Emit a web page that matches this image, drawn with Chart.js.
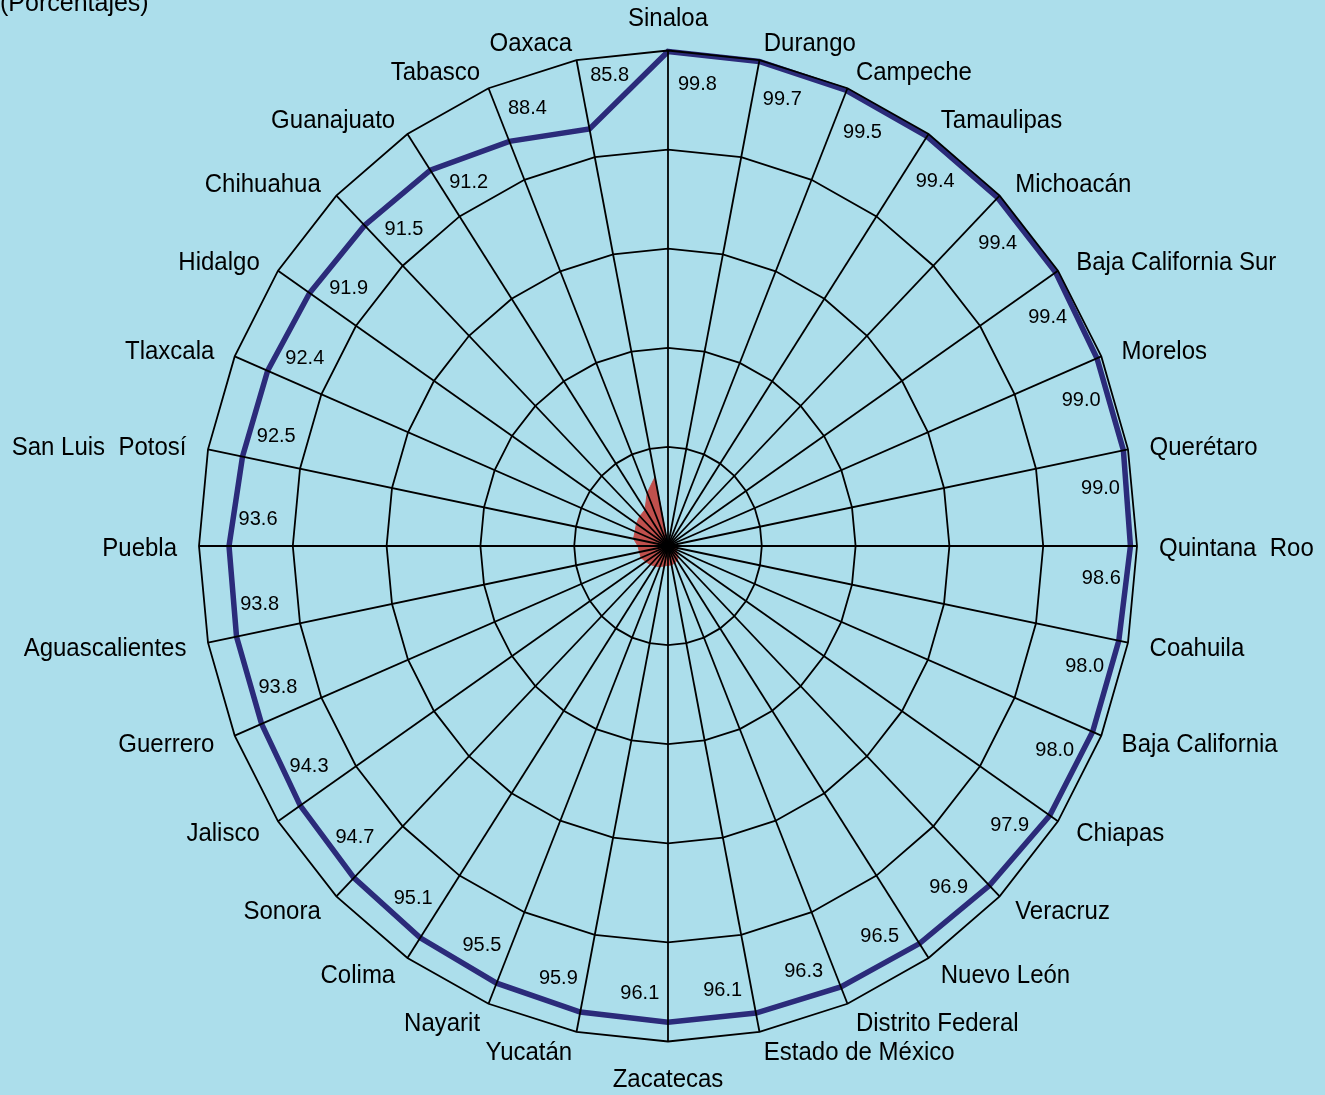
<!DOCTYPE html>
<html>
<head>
<meta charset="utf-8">
<script src="https://cdn.jsdelivr.net/npm/chart.js@4.4.1/dist/chart.umd.min.js"></script>
<style>
    html, body { margin: 0; padding: 0; background: #acdeeb; overflow: hidden; }
    #radar { display: block; background: #acdeeb; }
</style>
</head>
<body>
<canvas id="radar" width="1325" height="1095"></canvas>
<script>
// ================= DATA =================

const estados = [
    "Sinaloa", "Durango", "Campeche", "Tamaulipas", "Michoacán",
    "Baja California Sur", "Morelos", "Querétaro", "Quintana  Roo", "Coahuila",
    "Baja California", "Chiapas", "Veracruz", "Nuevo León", "Distrito Federal",
    "Estado de México", "Zacatecas", "Yucatán", "Nayarit", "Colima",
    "Sonora", "Jalisco", "Guerrero", "Aguascalientes", "Puebla",
    "San Luis  Potosí", "Tlaxcala", "Hidalgo", "Chihuahua", "Guanajuato",
    "Tabasco", "Oaxaca"
];

const porcentaje = [
    99.8, 99.7, 99.5, 99.4, 99.4,
    99.4, 99.0, 99.0, 98.6, 98.0,
    98.0, 97.9, 96.9, 96.5, 96.3,
    96.1, 96.1, 95.9, 95.5, 95.1,
    94.7, 94.3, 93.8, 93.8, 93.6,
    92.5, 92.4, 91.9, 91.5, 91.2,
    88.4, 85.8
];

const resto = [
    0.2, 0.3, 0.5, 0.6, 0.6,
    0.6, 1.0, 1.0, 1.4, 2.0,
    2.0, 2.1, 3.1, 3.5, 3.7,
    3.9, 3.9, 4.1, 4.5, 4.9,
    5.3, 5.7, 6.2, 6.2, 6.4,
    7.5, 7.6, 8.1, 8.5, 8.8,
    11.6, 14.2
];

const escalaMin = 0;
const escalaMax = 100;
const escalaPaso = 20;

const titulo = "(Porcentajes)";

// ================= SCALE (elliptic radar) =================

const Y_STRETCH = 1.0565;
const FONT = "'Liberation Sans', Arial, sans-serif";

class EllipticRadialScale extends Chart.RadialLinearScale {
    static id = "ellipticRadial";

    getPointPosition(index, distance, additionalAngle = 0) {
        const angle = this.getIndexAngle(index) - Math.PI / 2 + additionalAngle;
        return {
            x: Math.cos(angle) * distance + this.xCenter,
            y: Math.sin(angle) * distance * Y_STRETCH + this.yCenter,
            angle
        };
    }
}
Chart.register(EllipticRadialScale);

// text gets the same vertical stretch as the plot
function drawText(ctx, text, x, y) {
    ctx.save();
    ctx.translate(x, y);
    ctx.scale(1, Y_STRETCH);
    ctx.fillText(text, 0, 0);
    ctx.restore();
}

// ================= LABELS =================

const labelsPlugin = {
    id: "labels",
    afterDraw(chart) {
        const ctx = chart.ctx;
        const scale = chart.scales.r;
        const n = estados.length;

        ctx.save();
        ctx.fillStyle = "#000";

        // state names around the outer ring
        ctx.font = "24px " + FONT;
        estados.forEach((name, i) => {
            const p = scale.getPointPosition(i, scale.drawingArea);
            const theta = i * 2 * Math.PI / n;
            const s = Math.sin(theta);
            const c = Math.cos(theta);
            let x, y;
            if (i === 0) {
                ctx.textAlign = "center";
                x = p.x;
                y = p.y - 25;
            } else if (i === n / 2) {
                ctx.textAlign = "center";
                x = p.x;
                y = p.y + 46;
            } else {
                ctx.textAlign = s > 0 ? "left" : "right";
                x = p.x + 22 * s;
                y = p.y - 19 * c + 9.5;
            }
            drawText(ctx, name, x, y);
        });

        // value labels next to each point
        ctx.font = "20px " + FONT;
        ctx.textAlign = "center";
        porcentaje.forEach((v, i) => {
            const r = v < 90 ? 182 - v : v - 6;
            const p = scale.getPointPositionForValue(i + 0.34, r);
            drawText(ctx, v.toFixed(1), p.x, p.y + 7.6);
        });

        // title, clipped at the top like the original
        ctx.font = "25px " + FONT;
        ctx.textAlign = "left";
        drawText(ctx, titulo, 0, 11);

        ctx.restore();
    }
};

// ================= CHART =================

new Chart(document.getElementById("radar"), {
    type: "radar",
    data: {
        labels: estados,
        datasets: [
            {
                label: "Porcentaje",
                data: porcentaje,
                borderColor: "#2b2b7a",
                borderWidth: 5.5,
                fill: false,
                pointRadius: 0,
                tension: 0
            },
            {
                label: "Resto",
                data: resto,
                borderColor: "#c0504d",
                backgroundColor: "#c0504d",
                borderWidth: 1,
                fill: true,
                pointRadius: 0,
                tension: 0
            }
        ]
    },
    options: {
        responsive: false,
        animation: false,
        devicePixelRatio: 1,
        layout: {
            padding: { left: 199, right: 188, top: 77, bottom: 80 }
        },
        scales: {
            r: {
                type: "ellipticRadial",
                min: escalaMin,
                max: escalaMax,
                ticks: { display: false, stepSize: escalaPaso },
                grid: { color: "#000", lineWidth: 1.8, z: 1 },
                angleLines: { color: "#000", lineWidth: 1.8 },
                pointLabels: { display: false }
            }
        },
        plugins: {
            legend: { display: false },
            tooltip: { enabled: false }
        }
    },
    plugins: [labelsPlugin]
});
</script>
</body>
</html>
